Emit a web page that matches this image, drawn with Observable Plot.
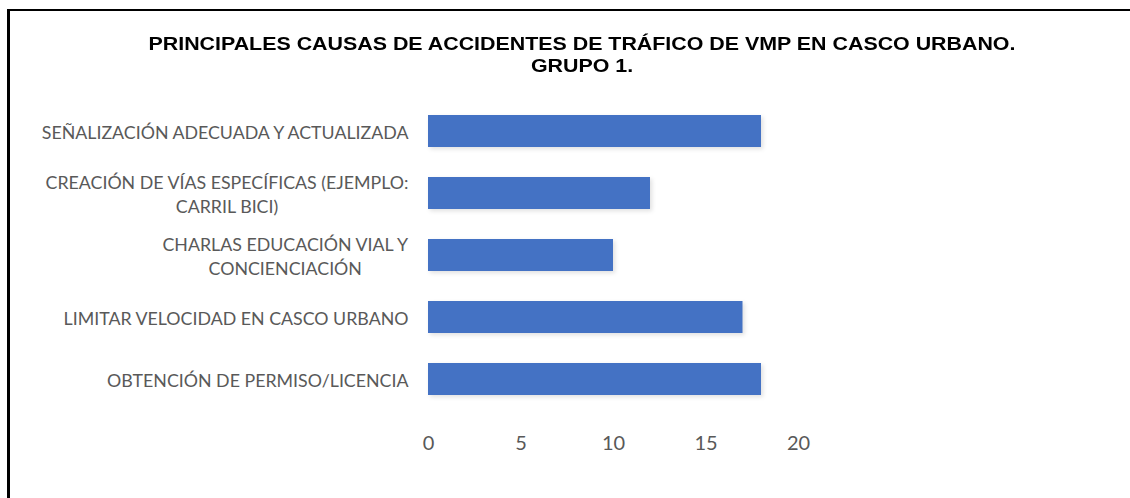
<!DOCTYPE html>
<html>
<head>
<meta charset="utf-8">
<script src="https://cdn.jsdelivr.net/npm/d3@7"></script>
<script src="https://cdn.jsdelivr.net/npm/@observablehq/plot@0.6"></script>
<style>
  html, body { margin: 0; padding: 0; background: #fff; overflow: hidden; }
  #wrap { position: relative; width: 1130px; height: 498px; overflow: hidden; background: #fff; }
  #frame { position: absolute; left: 7px; top: 9px; right: -10px; bottom: -10px;
           border-left: 3px solid #000; border-top: 2px solid #000; }
  #title { position: absolute; left: 34px; width: 1096px; top: 33px; text-align: center;
           font-family: "Liberation Sans", Arial, sans-serif; font-weight: bold; font-size: 18px;
           line-height: 22px; color: #000; transform: scaleX(1.188); transform-origin: 50% 50%; }
  #chart { position: absolute; left: 0; top: 80px; }
  #chart g[aria-label="bar"] { filter: drop-shadow(2px 2px 2px rgba(0,0,0,0.12)); }
</style>
</head>
<body>
<div id="wrap">
  <div id="frame"></div>
  <div id="title">PRINCIPALES CAUSAS DE ACCIDENTES DE TRÁFICO DE VMP EN CASCO URBANO.<br>GRUPO 1.</div>
  <div id="chart"></div>
</div>
<script>
const categories = [
  "SEÑALIZACIÓN ADECUADA Y ACTUALIZADA",
  "CREACIÓN DE VÍAS ESPECÍFICAS (EJEMPLO:\nCARRIL BICI)",
  "CHARLAS EDUCACIÓN VIAL Y\nCONCIENCIACIÓN",
  "LIMITAR VELOCIDAD EN CASCO URBANO",
  "OBTENCIÓN DE PERMISO/LICENCIA"
];
const values = [18, 12, 10, 17, 18];
const xTicks = [0, 5, 10, 15, 20];

const data = categories.map((c, i) => ({category: c, value: values[i]}));

const plot = Plot.plot({
  width: 1130,
  height: 400,
  marginLeft: 428,
  marginRight: 332,
  marginTop: 20,
  marginBottom: 69,
  style: {background: "transparent", color: "#595959", fontFamily: "Lato"},
  x: {domain: [0, 20], ticks: xTicks},
  y: {domain: categories, paddingInner: 0.48, paddingOuter: 0.24},
  marks: [
    Plot.barX(data, {x: "value", y: "category", fill: "#4472C4"}),
    Plot.axisX({ticks: xTicks, tickSize: 0, tickPadding: 24, fontSize: 20, label: null, fill: "#595959"}),
    Plot.axisY({tickSize: 0, tickPadding: 20, fontSize: 17.8, lineHeight: 1.32, label: null, fill: "#595959"})
  ]
});
document.getElementById("chart").appendChild(plot);

// centre the lines of wrapped category labels within their right-aligned block
plot.querySelectorAll('g[aria-label="y-axis tick label"] text').forEach(t => {
  const spans = t.querySelectorAll("tspan");
  if (spans.length > 1) {
    const w = t.getBBox().width;
    t.setAttribute("text-anchor", "middle");
    spans.forEach(s => s.setAttribute("x", -w / 2));
  }
});
</script>
</body>
</html>
